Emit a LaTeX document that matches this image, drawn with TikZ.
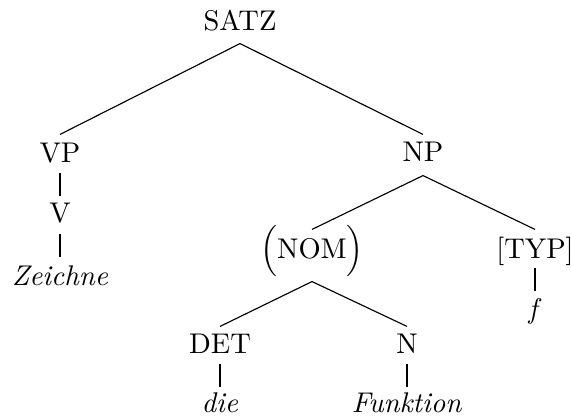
\documentclass[tikz,border=0pt]{standalone}
\begin{document}
\begin{tikzpicture}[x=0.351pt,y=-0.351pt,
  lab/.style={inner sep=0pt, anchor=base},
  br/.style={line width=0.4pt},
  vt/.style={line width=0.75pt}]
\useasboundingbox (0,0) rectangle (571,419);
% level 0
\node[lab, text depth=4.56pt] (satz) at (240,30) {SATZ};
% level 1
\node[lab, text height=9.48pt, text depth=3.51pt] (vp) at (60,162) {VP};
\node[lab, text height=9.13pt, text depth=4.91pt] (np) at (423,161) {NP};
% level 2
\node[lab, text height=8.78pt, text depth=3.86pt] (v) at (60,222) {V};
\node[lab, text height=9.83pt, text depth=8.07pt] (nom) at (312,258) {$\Big($NOM$\Big)$};
\node[lab, text height=9.83pt, text depth=3.16pt] (typ) at (535,258) {[TYP]};
% level 3
\node[lab, text height=9.48pt] (zeichne) at (60,285) {\textit{Zeichne}};
\node[lab, text height=9.13pt, text depth=3.51pt] (det) at (220,353) {DET};
\node[lab, text height=9.13pt, text depth=3.51pt] (n) at (407,353) {N};
\node[lab, text height=9.13pt] (f) at (535,318) {\textit{f}};
% level 4
\node[lab, text height=8.42pt] (die) at (220,412) {\textit{die}};
\node[lab, text height=8.42pt] (funktion) at (407,412) {\textit{Funktion}};
% connectors
\draw[br] (satz.south) -- (vp.north);
\draw[br] (satz.south) -- (np.north);
\draw[vt] (vp.south) -- (v.north);
\draw[vt] (v.south) -- (zeichne.north);
\draw[br] (np.south) -- (nom.north);
\draw[br] (np.south) -- (typ.north);
\draw[br] (nom.south) -- (det.north);
\draw[br] (nom.south) -- (n.north);
\draw[vt] (typ.south) -- (f.north);
\draw[vt] (det.south) -- (die.north);
\draw[vt] (n.south) -- (funktion.north);
\end{tikzpicture}
\end{document}
